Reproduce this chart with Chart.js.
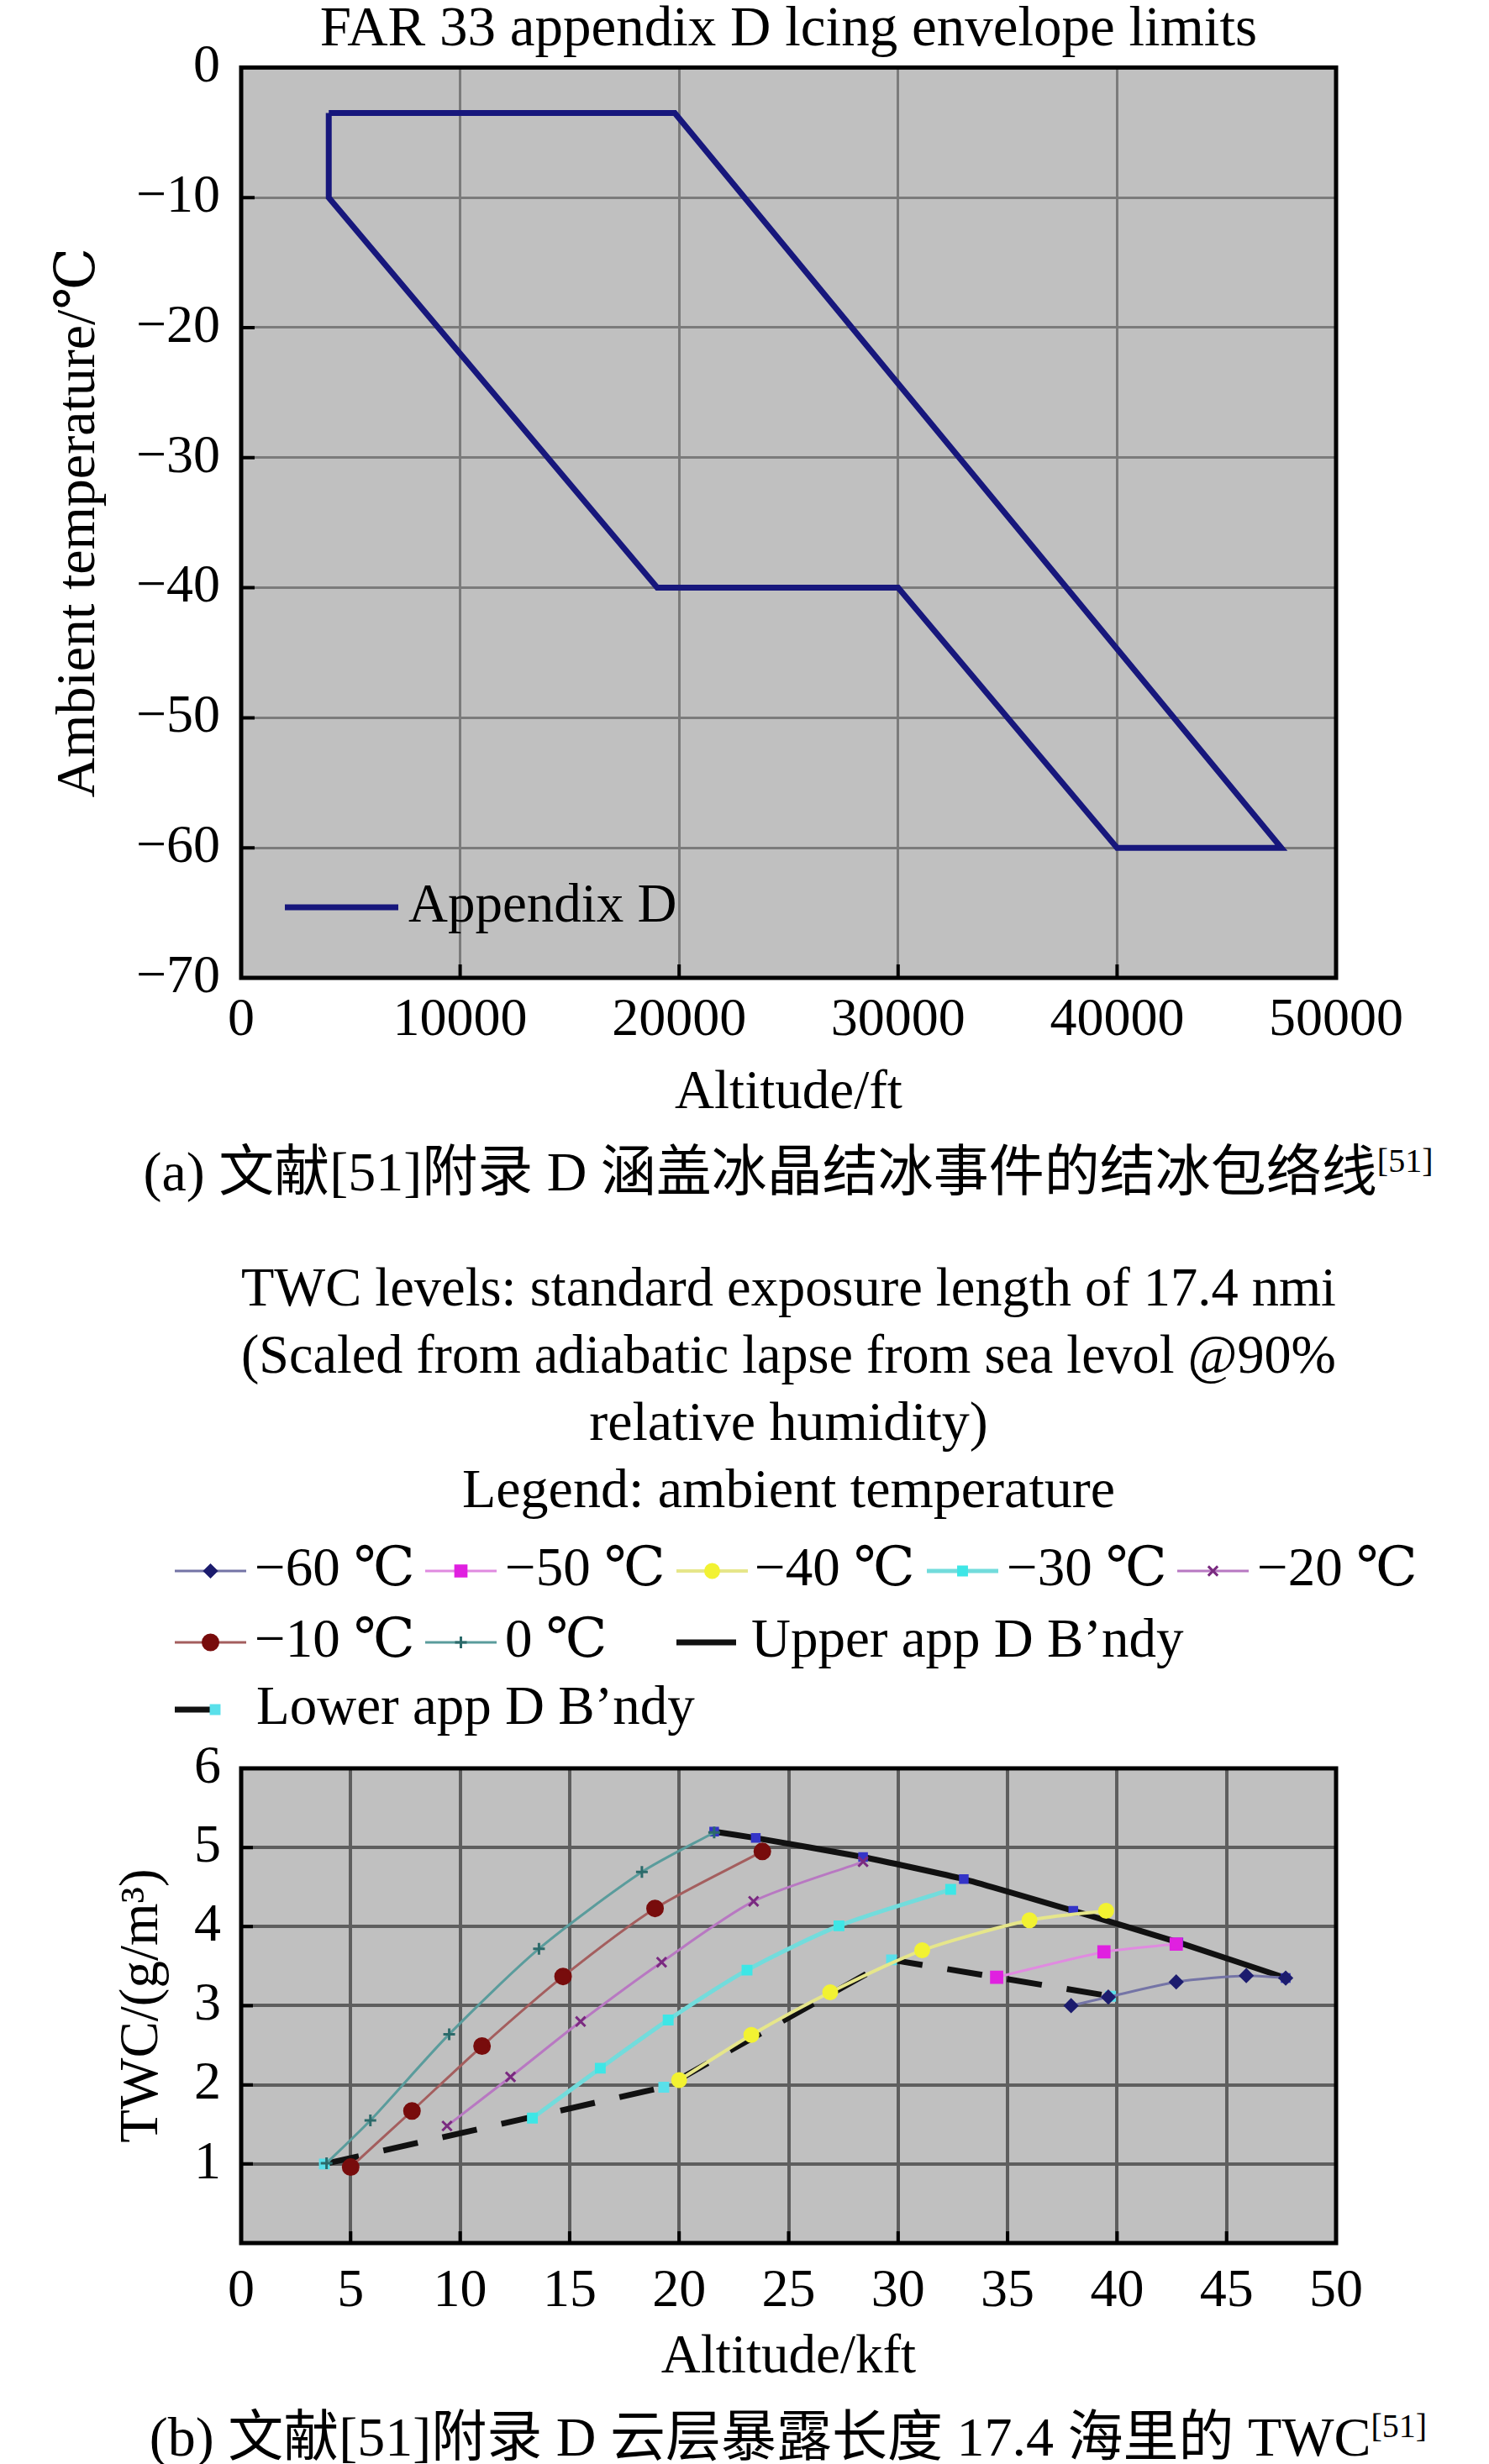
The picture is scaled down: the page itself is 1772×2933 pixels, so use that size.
<!DOCTYPE html>
<html>
<head>
<meta charset="utf-8">
<script src="https://cdn.jsdelivr.net/npm/chart.js@4.4.1/dist/chart.umd.min.js"></script>
<style>
body { margin: 0; background: #fff; width: 1772px; height: 2933px; position: relative; overflow: hidden; }
canvas { position: absolute; left: 0; }
#c1 { top: 0; }
#c2 { top: 1490px; }
.cap { position: absolute; left: 52px; width: 1772px; text-align: center; font-family: 'Liberation Serif', 'Noto Sans CJK SC', serif; font-size: 66px; line-height: 66px; white-space: nowrap; color: #000; }
.cap sup { font-size: 40px; vertical-align: 22px; line-height: 0; }
</style>
</head>
<body>
<canvas id="c1" width="1772" height="1345"></canvas>
<div class="cap" style="top:1362px">(a) 文献[51]附录 D 涵盖冰晶结冰事件的结冰包络线<sup>[51]</sup></div>
<canvas id="c2" width="1772" height="1360"></canvas>
<div class="cap" style="top:2868px">(b) 文献[51]附录 D 云层暴露长度 17.4 海里的 TWC<sup>[51]</sup></div>
<script>
// (a) Appendix D envelope, altitude (ft) vs ambient temperature (°C)
const envAlt  = [4000, 19800, 47500, 40000, 30000, 19000, 4000, 4000];
const envTemp = [-3.5, -3.5, -60, -60, -40, -40, -10, -3.5];
const altTicks  = [0, 10000, 20000, 30000, 40000, 50000];
const tempTicks = [0, -10, -20, -30, -40, -50, -60, -70];

// (b) TWC vs altitude (kft), one pair of arrays per curve
const seriesNames = ['−60 ℃', '−50 ℃', '−40 ℃', '−30 ℃', '−20 ℃', '−10 ℃', '0 ℃', 'Upper app D B’ndy', 'Lower app D B’ndy'];
const m60Alt = [37.9, 39.6, 42.7, 45.9, 47.7];
const m60Twc = [3.00, 3.11, 3.30, 3.38, 3.35];
const m50Alt = [34.5, 39.4, 42.7];
const m50Twc = [3.36, 3.68, 3.78];
const m40Alt = [20.0, 23.3, 26.9, 31.1, 36.0, 39.5];
const m40Twc = [2.06, 2.63, 3.17, 3.70, 4.08, 4.20];
const m30Alt = [13.3, 16.4, 19.5, 23.1, 27.3, 32.4];
const m30Twc = [1.58, 2.21, 2.82, 3.45, 4.01, 4.47];
const m20Alt = [9.4, 12.3, 15.5, 19.2, 23.4, 28.4];
const m20Twc = [1.48, 2.10, 2.80, 3.55, 4.32, 4.82];
const m10Alt = [5.0, 7.8, 11.0, 14.7, 18.9, 23.8];
const m10Twc = [0.96, 1.67, 2.49, 3.37, 4.23, 4.95];
const p0Alt  = [3.9, 5.9, 9.5, 13.6, 18.3, 21.6];
const p0Twc  = [1.01, 1.55, 2.64, 3.72, 4.69, 5.19];
const upAlt  = [21.6, 23.5, 28.4, 33.0, 38.0, 42.8, 47.7];
const upTwc  = [5.20, 5.12, 4.88, 4.60, 4.20, 3.80, 3.35];
const lowAlt = [3.8, 19.3, 20.0, 29.7, 39.7];
const lowTwc = [1.00, 1.97, 2.07, 3.58, 3.12];
const kftTicks = [0, 5, 10, 15, 20, 25, 30, 35, 40, 45, 50];
const twcTicks = [0, 1, 2, 3, 4, 5, 6];

const FONT = "'Liberation Serif', 'DejaVu Serif', 'Noto Sans CJK SC', serif";
Chart.defaults.font.family = FONT;
Chart.defaults.color = '#000';

const pts = (xs, ys) => xs.map((x, i) => ({ x: x, y: ys[i] }));
const minus = v => String(v).replace('-', '−');

// grey plot background, black frame and inner tick marks
const frame = {
  id: 'frame',
  beforeDraw(chart, args, o) {
    const { ctx, chartArea: a } = chart;
    ctx.save();
    ctx.fillStyle = o.bg;
    ctx.fillRect(a.left, a.top, a.right - a.left, a.bottom - a.top);
    ctx.restore();
  },
  afterDraw(chart, args, o) {
    const { ctx, chartArea: a, scales } = chart;
    ctx.save();
    ctx.strokeStyle = '#000';
    ctx.lineWidth = 4;
    ctx.beginPath();
    scales.x.ticks.forEach(t => {
      const p = scales.x.getPixelForValue(t.value);
      if (p > a.left + 4 && p < a.right - 4) { ctx.moveTo(p, a.bottom); ctx.lineTo(p, a.bottom - o.tick); }
    });
    scales.y.ticks.forEach(t => {
      const p = scales.y.getPixelForValue(t.value);
      if (p > a.top + 4 && p < a.bottom - 4) { ctx.moveTo(a.left, p); ctx.lineTo(a.left + o.tick, p); }
    });
    ctx.stroke();
    ctx.lineWidth = 5;
    ctx.strokeRect(a.left, a.top, a.right - a.left, a.bottom - a.top);
    ctx.restore();
  }
};

// legend laid out on fixed columns like the original figure
const gridLegend = {
  id: 'gridLegend',
  afterDraw(chart, args, o) {
    if (!o.items) return;
    const ctx = chart.ctx;
    const drawPoint = Chart.helpers && Chart.helpers.drawPoint;
    ctx.save();
    o.items.forEach(it => {
      const ds = chart.data.datasets[it.i];
      ctx.save();
      ctx.strokeStyle = ds.borderColor;
      ctx.lineWidth = ds.borderWidth;
      ctx.setLineDash(ds.borderDash || []);
      ctx.beginPath();
      ctx.moveTo(it.x, it.y);
      ctx.lineTo(it.x + it.w, it.y);
      ctx.stroke();
      ctx.setLineDash([]);
      if (!it.bare && ds.pointRadius && drawPoint) {
        ctx.fillStyle = ds.pointBackgroundColor;
        ctx.strokeStyle = ds.pointBorderColor;
        ctx.lineWidth = ds.pointBorderWidth || 1;
        drawPoint(ctx, { pointStyle: ds.pointStyle, radius: ds.pointRadius, rotation: 0, borderWidth: ds.pointBorderWidth || 1 },
          it.px !== undefined ? it.px : it.x + it.w / 2, it.y);
      }
      ctx.restore();
      ctx.fillStyle = '#000';
      ctx.font = o.font;
      ctx.textBaseline = 'middle';
      ctx.fillText(ds.label, it.tx, it.y);
    });
    ctx.restore();
  }
};

// ---------- (a) ----------
new Chart(document.getElementById('c1'), {
  type: 'scatter',
  data: {
    datasets: [{
      label: 'Appendix D',
      data: pts(envAlt, envTemp),
      showLine: true,
      borderColor: '#17177c',
      borderWidth: 7,
      pointRadius: 0,
      tension: 0
    }]
  },
  options: {
    responsive: false,
    animation: false,
    devicePixelRatio: 1,
    layout: { padding: { left: 0, right: 182, top: 0, bottom: 0 } },
    plugins: {
      legend: { display: false },
      tooltip: { enabled: false },
      title: {
        display: true, fullSize: false,
        text: 'FAR 33 appendix D lcing envelope limits',
        font: { size: 67, weight: 'normal', lineHeight: 1.08 }, color: '#000',
        padding: { top: 0, bottom: 8 }
      },
      frame: { bg: '#c0c0c0', tick: 16 },
      gridLegend: {
        font: '65px ' + FONT,
        items: [{ i: 0, x: 339, y: 1080, w: 135, tx: 486, bare: true }]
      }
    },
    scales: {
      x: {
        type: 'linear', min: 0, max: 50000,
        afterBuildTicks: s => { s.ticks = altTicks.map(v => ({ value: v })); },
        afterFit: s => { s.height = 181; },
        grid: { color: '#7b7b7b', lineWidth: 3, drawTicks: false },
        border: { display: false },
        ticks: { padding: 13, font: { size: 64 }, color: '#000', callback: v => String(v) },
        title: { display: true, text: 'Altitude/ft', font: { size: 65 }, color: '#000', padding: { top: 0, bottom: 4 } }
      },
      y: {
        type: 'linear', min: -70, max: 0,
        afterBuildTicks: s => { s.ticks = tempTicks.map(v => ({ value: v })); },
        afterFit: s => { s.width = 287; },
        grid: { color: '#7b7b7b', lineWidth: 3, drawTicks: false },
        border: { display: false },
        ticks: { padding: 25, font: { size: 64 }, color: '#000', callback: v => minus(v) },
        title: { display: true, text: 'Ambient temperature/℃', font: { size: 66 }, color: '#000', padding: { top: 55, bottom: 0 } }
      }
    }
  },
  plugins: [frame, gridLegend]
});

// ---------- (b) ----------
function series(i, xs, ys, line, mark, style, r, w) {
  return {
    label: seriesNames[i],
    data: pts(xs, ys),
    showLine: true,
    borderColor: line,
    borderWidth: w,
    tension: 0.25,
    pointStyle: style,
    pointRadius: r,
    pointBackgroundColor: mark,
    pointBorderColor: mark,
    pointBorderWidth: 3
  };
}

new Chart(document.getElementById('c2'), {
  type: 'scatter',
  data: {
    datasets: [
      series(0, m60Alt, m60Twc, '#7474a6', '#1c1c6e', 'rectRot', 7, 3),
      series(1, m50Alt, m50Twc, '#e08ae0', '#e020e0', 'rect', 9, 3),
      series(2, m40Alt, m40Twc, '#e6e68a', '#f2f232', 'circle', 8, 4),
      series(3, m30Alt, m30Twc, '#72dcdc', '#3ee6e6', 'rect', 7, 5),
      series(4, m20Alt, m20Twc, '#b878c2', '#7a2a80', 'crossRot', 8, 3),
      series(5, m10Alt, m10Twc, '#a45e5e', '#780c0c', 'circle', 9, 3),
      series(6, p0Alt, p0Twc, '#5a9c9c', '#2c6a6a', 'cross', 7, 3),
      Object.assign(series(7, upAlt, upTwc, '#111111', '#3434c8', 'rect', 6, 7), { tension: 0.15 }),
      Object.assign(series(8, lowAlt, lowTwc, '#111111', '#5ae0ea', 'rect', 7, 7), { tension: 0, borderDash: [42, 30] })
    ]
  },
  options: {
    responsive: false,
    animation: false,
    devicePixelRatio: 1,
    layout: { padding: { left: 0, right: 182, top: 0, bottom: 0 } },
    plugins: {
      legend: { display: false },
      tooltip: { enabled: false },
      title: {
        display: true, fullSize: false,
        text: ['TWC levels: standard exposure length of 17.4 nmi',
               '(Scaled from adiabatic lapse from sea levol @90%',
               'relative humidity)',
               'Legend: ambient temperature'],
        font: { size: 66, weight: 'normal', lineHeight: 1.212 }, color: '#000',
        padding: { top: 7, bottom: 288 }
      },
      frame: { bg: '#c0c0c0', tick: 14 },
      gridLegend: {
        font: '65px ' + FONT,
        items: [
          { i: 0, x: 208, y: 380, w: 85, tx: 303 },
          { i: 1, x: 506, y: 380, w: 85, tx: 601 },
          { i: 2, x: 805, y: 380, w: 85, tx: 898 },
          { i: 3, x: 1103, y: 380, w: 85, tx: 1198 },
          { i: 4, x: 1401, y: 380, w: 85, tx: 1496 },
          { i: 5, x: 208, y: 465, w: 85, tx: 303 },
          { i: 6, x: 506, y: 465, w: 85, tx: 601 },
          { i: 7, x: 805, y: 465, w: 71, tx: 894, bare: true },
          { i: 8, x: 208, y: 545, w: 56, tx: 305, px: 256 }
        ]
      }
    },
    scales: {
      x: {
        type: 'linear', min: 0, max: 50,
        afterBuildTicks: s => { s.ticks = kftTicks.map(v => ({ value: v })); },
        afterFit: s => { s.height = 180; },
        grid: { color: '#5e5e5e', lineWidth: 4, drawTicks: false },
        border: { display: false },
        ticks: { padding: 20, font: { size: 64 }, color: '#000', callback: v => String(v) },
        title: { display: true, text: 'Altitude/kft', font: { size: 65 }, color: '#000', padding: { top: 0, bottom: 4 } }
      },
      y: {
        type: 'linear', min: 0, max: 6,
        afterBuildTicks: s => { s.ticks = twcTicks.map(v => ({ value: v })); },
        afterFit: s => { s.width = 287; },
        grid: { color: '#5e5e5e', lineWidth: 4, drawTicks: false },
        border: { display: false },
        ticks: { padding: 24, font: { size: 64 }, color: '#000', callback: v => (v === 0 ? '' : String(v)) },
        title: { display: true, text: 'TWC/(g/m³)', font: { size: 65 }, color: '#000', padding: { top: 131, bottom: 0 } }
      }
    }
  },
  plugins: [frame, gridLegend]
});
</script>
</body>
</html>
